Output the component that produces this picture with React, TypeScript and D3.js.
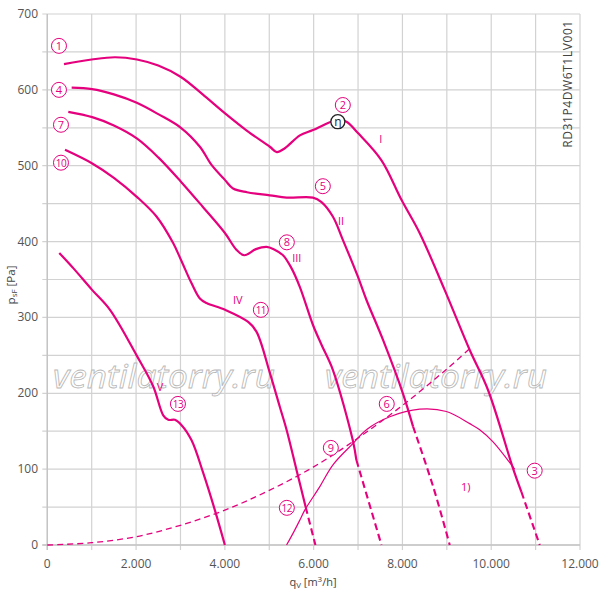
import * as d3 from 'd3';

// q [m3/h], p [Pa]
const curveISolid: [number, number][] = [
  [376, 634], [1000, 640], [1526, 643], [2020, 640], [2500, 632], [3010, 617], [3500, 594],
  [4005, 569], [4500, 546], [5013, 525], [5170, 518], [5350, 523], [5690, 540], [5985, 547],
  [6432, 559], [6537, 560], [6740, 558], [6998, 543], [7528, 507], [7978, 455], [8390, 411],
  [8953, 336], [9516, 257], [9930, 204], [10491, 101], [10680, 70],
];
const curveIDashed: [number, number][] = [[10680, 70], [11093, 0]];

const curveIISolid: [number, number][] = [
  [549, 603], [1010, 601], [1500, 594], [2016, 583], [2500, 568], [3010, 550], [3437, 525],
  [3700, 501], [4005, 481], [4185, 470], [4500, 465], [5013, 461], [5395, 458], [5985, 458],
  [6177, 452], [6432, 433], [6660, 402], [6995, 354], [7190, 323], [7565, 270], [8010, 200],
  [8240, 156],
];
const curveIIDashed: [number, number][] = [[8240, 156], [8692, 77], [9066, 0]];

const curveIIISolid: [number, number][] = [
  [473, 571], [1013, 564], [1500, 553], [2016, 536], [2500, 511], [3010, 479], [3500, 446],
  [4005, 411], [4250, 390], [4435, 382], [4700, 390], [4938, 393], [5100, 390], [5310, 382],
  [5500, 365], [5690, 340], [5985, 290], [6177, 264], [6432, 231], [6882, 138], [6963, 112],
];
const curveIIIDashed: [number, number][] = [[6963, 112], [7528, 0]];

const curveIVSolid: [number, number][] = [
  [399, 521], [1013, 503], [1500, 484], [2016, 459], [2460, 433], [2835, 398], [3010, 376],
  [3250, 345], [3437, 325], [3587, 319], [4005, 310], [4525, 294], [4714, 281], [5013, 227],
  [5239, 182], [5390, 152], [5614, 99], [5820, 50],
];
const curveIVDashed: [number, number][] = [[5820, 50], [6040, 0]];

const curveV: [number, number][] = [
  [270, 385], [600, 364], [1013, 336], [1412, 310], [2012, 250], [2387, 209], [2612, 171],
  [2725, 165], [2875, 165], [3025, 158], [3250, 138], [3512, 95], [3775, 46], [4000, 0],
];

const systemCurve: [number, number][] = [
  [0, 0], [1000, 3], [2000, 11], [3000, 26], [4000, 46], [5000, 72], [6000, 103],
  [7000, 141], [8000, 184], [9000, 232], [9516, 259],
];

const powerCurve: [number, number][] = [
  [5390, 0], [5550, 17], [5690, 33], [5800, 46], [6139, 77], [6439, 106], [6889, 134],
  [7190, 152], [7715, 169], [8390, 179], [8991, 176], [9516, 160], [9741, 152],
  [10041, 136], [10491, 103], [10529, 100],
];

const xTicks = [0, 2000, 4000, 6000, 8000, 10000, 12000];
const xTickLabels = ['0', '2.000', '4.000', '6.000', '8.000', '10.000', '12.000'];
const yTicks = [0, 100, 200, 300, 400, 500, 600, 700];

const pointLabels: { text: string; q: number; p: number }[] = [
  { text: '1', q: 263, p: 658 },
  { text: '2', q: 6657, p: 580 },
  { text: '3', q: 10979, p: 98 },
  { text: '4', q: 263, p: 600 },
  { text: '5', q: 6207, p: 473 },
  { text: '6', q: 7647, p: 186 },
  { text: '7', q: 308, p: 554 },
  { text: '8', q: 5396, p: 399 },
  { text: '9', q: 6387, p: 128 },
  { text: '10', q: 308, p: 504 },
  { text: '11', q: 4811, p: 310 },
  { text: '12', q: 5396, p: 49 },
  { text: '13', q: 2943, p: 186 },
];

const curveNames: { text: string; q: number; p: number }[] = [
  { text: 'I', q: 7510, p: 535 },
  { text: 'II', q: 6617, p: 427 },
  { text: 'III', q: 5620, p: 378 },
  { text: 'IV', q: 4291, p: 323 },
  { text: 'V', q: 2540, p: 208 },
  { text: '1)', q: 9425, p: 76 },
];

const etaPoint = { q: 6545, p: 558 };

const W = 600;
const H = 591;
const MAGENTA = '#e5007d';
const FONT = '"Open Sans", "Noto Sans", sans-serif';

export default function App() {
  const x = d3.scaleLinear().domain([0, 12000]).range([47.3, 580]);
  const y = d3.scaleLinear().domain([0, 700]).range([545, 14]);
  const line = d3
    .line<[number, number]>()
    .x((d) => x(d[0]))
    .y((d) => y(d[1]))
    .curve(d3.curveCatmullRom.alpha(0.5));

  const vGrid = d3.range(0, 12001, 1000);
  const hGrid = d3.range(0, 701, 50);

  const solids = [curveISolid, curveIISolid, curveIIISolid, curveIVSolid, curveV];
  const dashes = [curveIDashed, curveIIDashed, curveIIIDashed, curveIVDashed];

  return (
    <svg
      width={W}
      height={H}
      style={{ position: 'absolute', left: 0, top: 0, background: '#fff' }}
      fontFamily={FONT}
    >
      {/* grid */}
      <g stroke="#d2d2d2" strokeWidth={1.2}>
        {vGrid.map((v) => (
          <line key={'v' + v} x1={x(v)} x2={x(v)} y1={y(700)} y2={y(0) + 5} />
        ))}
        {hGrid.map((v) => (
          <line key={'h' + v} x1={x(0) - 5} x2={x(12000)} y1={y(v)} y2={y(v)} />
        ))}
      </g>
      <g stroke="#c4c4c4" strokeWidth={1.4}>
        <line x1={x(0)} x2={x(0)} y1={y(700)} y2={y(0) + 5} />
        <line x1={x(0) - 5} x2={x(12000)} y1={y(0)} y2={y(0)} />
      </g>

      {/* tick labels */}
      <g fill="#555" fontSize={12}>
        {xTicks.map((t, i) => (
          <text key={t} x={x(t)} y={568} textAnchor="middle">
            {xTickLabels[i]}
          </text>
        ))}
        {yTicks.map((t) => (
          <text key={t} x={38} y={y(t) + 4} textAnchor="end">
            {t}
          </text>
        ))}
      </g>

      {/* axis titles */}
      <text x={313} y={586} textAnchor="middle" fontSize={11} fill="#444">
        q<tspan fontSize={8} dy={2}>V</tspan>
        <tspan dy={-2}> [m</tspan>
        <tspan fontSize={8} dy={-4}>3</tspan>
        <tspan dy={4}>/h]</tspan>
      </text>
      <text
        transform="translate(15,285) rotate(-90)"
        textAnchor="middle"
        fontSize={11.5}
        fill="#444"
      >
        p<tspan fontSize={8} dy={2}>sF</tspan>
        <tspan dy={-2}> [Pa]</tspan>
      </text>
      <text
        transform="translate(572,84) rotate(-90)"
        textAnchor="middle"
        fontSize={12}
        fill="#444"
        letterSpacing={0.6}
      >
        RD31P4DW6T1LV001
      </text>

      {/* watermark */}
      <g
        fontSize={33}
        fontStyle="italic"
        fill="rgba(255,255,255,0.55)"
        stroke="#b8b8b8"
        strokeWidth={0.8}
      >
        <text x={53} y={388} textLength={222} lengthAdjust="spacingAndGlyphs">
          ventilatorry.ru
        </text>
        <text x={325} y={388} textLength={222} lengthAdjust="spacingAndGlyphs">
          ventilatorry.ru
        </text>
      </g>

      {/* curves */}
      <path d={line(systemCurve) ?? ''} fill="none" stroke={MAGENTA} strokeWidth={1.3} strokeDasharray="6 4" />
      <path d={line(powerCurve) ?? ''} fill="none" stroke={MAGENTA} strokeWidth={1.2} />
      {solids.map((c, i) => (
        <path key={'s' + i} d={line(c) ?? ''} fill="none" stroke={MAGENTA} strokeWidth={2.2} />
      ))}
      {dashes.map((c, i) => (
        <path
          key={'d' + i}
          d={line(c) ?? ''}
          fill="none"
          stroke={MAGENTA}
          strokeWidth={2.1}
          strokeDasharray="7 4"
        />
      ))}

      {/* eta marker */}
      <g transform={`translate(${x(etaPoint.q)},${y(etaPoint.p)})`}>
        <circle r={7} fill="#fff" stroke="#222" strokeWidth={1.3} />
        <text y={4} textAnchor="middle" fontSize={12} fill="#222">
          η
        </text>
      </g>

      {/* circled point labels */}
      {pointLabels.map((l) => (
        <g key={l.text} transform={`translate(${x(l.q)},${y(l.p)})`}>
          <circle r={7.5} fill="#fff" stroke={MAGENTA} strokeWidth={1} />
          <text
            y={4}
            textAnchor="middle"
            fontSize={l.text.length > 1 ? 10 : 11}
            fill={MAGENTA}
            letterSpacing={l.text.length > 1 ? -0.5 : 0}
          >
            {l.text}
          </text>
        </g>
      ))}

      {/* curve names */}
      {curveNames.map((l) => (
        <text key={l.text} x={x(l.q)} y={y(l.p) + 4} textAnchor="middle" fontSize={11} fill={MAGENTA}>
          {l.text}
        </text>
      ))}
    </svg>
  );
}
